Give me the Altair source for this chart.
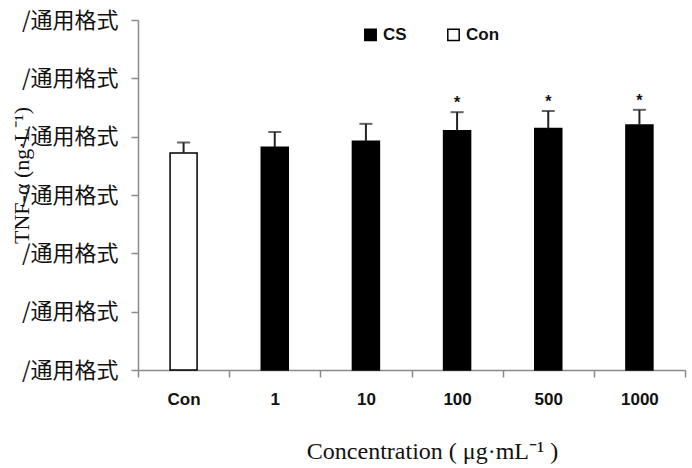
import altair as alt
import pandas as pd

categories = ["Con", "1", "10", "100", "500", "1000"]
groups = ["Con", "CS", "CS", "CS", "CS", "CS"]
means = [186, 191, 196, 205, 207, 210]
errors = [9, 13, 15, 16, 15, 13]
marks = ["", "", "", "*", "*", "*"]
y_ticks = [0, 50, 100, 150, 200, 250, 300]
y_label = "/通用格式"
legend_order = ["CS", "Con"]
legend_fill = ["black", "white"]

df = pd.DataFrame({"cat": categories, "group": groups, "mean": means,
                   "err": errors, "mark": marks})
df["top"] = df["mean"] + df["err"]

axis_gray = "#8a8a8a"

x_enc = alt.X(
    "cat:N", sort=categories,
    scale=alt.Scale(paddingInner=0, paddingOuter=0),
    axis=alt.Axis(
        title="Concentration ( μg·mL⁻¹ )",
        titleFont="Liberation Serif", titleFontSize=24, titleFontWeight="normal",
        titleColor="#111", titleX=294, titleY=88, titleBaseline="alphabetic",
        titleAlign="center", titleAnchor="start",
        labelAngle=0, labelFont="Liberation Sans", labelFontSize=17,
        labelFontWeight="bold", labelColor="#111", labelPadding=14,
        tickBand="extent", tickSize=7, tickColor=axis_gray, tickWidth=1.5,
        domainColor=axis_gray, domainWidth=1.5,
    ),
)

y_enc = alt.Y(
    "mean:Q",
    scale=alt.Scale(domain=[0, 300], nice=False, zero=True),
    axis=alt.Axis(
        values=y_ticks, labelExpr=f"'{y_label}'",
        labelFont="Noto Sans CJK SC", labelFontSize=22, labelColor="#111",
        labelPadding=13, tickSize=7, tickColor=axis_gray, tickWidth=1.5,
        domainColor=axis_gray, domainWidth=1.5,
        title="TNF-α (ng·L⁻¹)", titleFont="Liberation Serif", titleFontSize=22,
        titleFontWeight="normal", titleColor="#111", titleAngle=-90,
        titleX=-117, titleY=155, titleAlign="center", titleBaseline="middle",
        titleAnchor="start",
    ),
)

bars = alt.Chart(df).mark_bar(size=27, stroke="black", strokeWidth=1.5).encode(
    x=x_enc,
    y=y_enc,
    fill=alt.Fill(
        "group:N",
        scale=alt.Scale(domain=legend_order, range=legend_fill),
        legend=alt.Legend(
            title=None, orient="none", legendX=224, legendY=6, direction="horizontal",
            symbolType="square", symbolSize=130, symbolStrokeColor="black",
            symbolStrokeWidth=1.5, labelFont="Liberation Sans", labelFontSize=17,
            labelFontWeight="bold", labelColor="#111", labelOffset=4,
            columnPadding=37, padding=0,
        ),
    ),
)

rules = alt.Chart(df).mark_rule(color="#222", strokeWidth=2).encode(
    x=alt.X("cat:N", sort=categories),
    y="mean:Q",
    y2="top:Q",
)

caps = alt.Chart(df).mark_tick(size=13, thickness=2, color="#222").encode(
    x=alt.X("cat:N", sort=categories),
    y="top:Q",
)

stars = alt.Chart(df).mark_text(dy=-9, fontSize=16, fontWeight="bold",
                                 font="Liberation Sans", color="#111",
                                 baseline="middle").encode(
    x=alt.X("cat:N", sort=categories),
    y="top:Q",
    text="mark:N",
)

chart = alt.layer(bars, rules, caps, stars).properties(
    width=547, height=350,
    autosize=alt.AutoSizeParams(type="none"),
    padding={"left": 138, "top": 20, "right": 7, "bottom": 98},
    background="white",
).configure_view(stroke=None).configure_axis(grid=False)

chart.save("out.html", embed_options={"renderer": "svg", "actions": False})
